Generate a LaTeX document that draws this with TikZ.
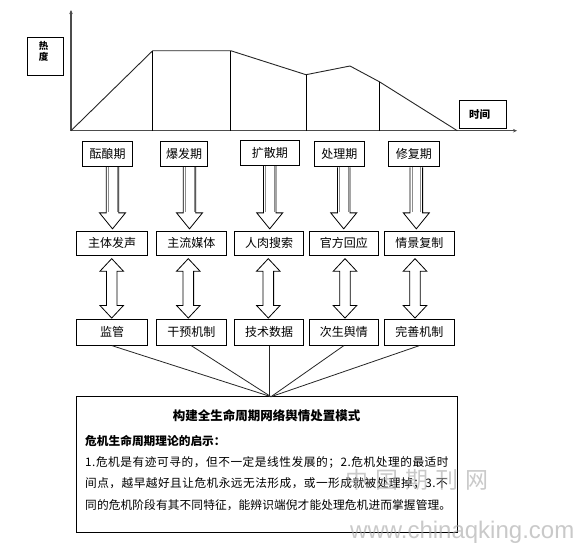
\documentclass[tikz,border=0pt]{standalone}
\usepackage{fontspec}
\setmainfont{Noto Sans CJK SC}
\newfontfamily\wmfont{Liberation Sans}
\usetikzlibrary{calc,arrows.meta}
\def\sprd#1{\ifx#1\relax\else#1\hskip 0pt plus 1fil\expandafter\sprd\fi}
\tikzset{
  axis/.style={draw=black!70, line width=1.2pt},
  curve/.style={draw=black!85, line width=0.9pt},
  vline/.style={draw=black, line width=0.8pt},
  box/.style={draw=black, line width=0.8pt, inner sep=0pt, font=\fontsize{12pt}{14pt}\selectfont},
  harrow/.style={draw=black, line width=0.8pt, fill=white, line join=miter},
  hinner/.style={draw=black!45, line width=0.7pt},
  conn/.style={draw=black!85, line width=0.8pt},
  wm/.style={text=black!35, opacity=0.6}
}
\newcommand{\hdown}[3]{%
  \draw[harrow] let \p1=(#2.south), \p2=(#3.north) in
    (#1pt-6.3pt,\y1) -- (#1pt-6.3pt,\y2+17.7pt) -- (#1pt-13pt,\y2+17.7pt) -- (#1pt,\y2+1.7pt)
    -- (#1pt+13pt,\y2+17.7pt) -- (#1pt+6.3pt,\y2+17.7pt) -- (#1pt+6.3pt,\y1);
  \draw[hinner] let \p1=(#2.south), \p2=(#3.north) in
    (#1pt-4.4pt,\y1) -- (#1pt-4.4pt,\y2+18.3pt)
    (#1pt+4.4pt,\y1) -- (#1pt+4.4pt,\y2+18.3pt);
}
\newcommand{\hdouble}[3]{%
  \draw[harrow] let \p1=(#2.south), \p2=(#3.north) in
    (#1pt,\y1-2.6pt) -- (#1pt+11.7pt,\y1-15.1pt) -- (#1pt+5.3pt,\y1-15.1pt) -- (#1pt+5.3pt,\y2+13pt)
    -- (#1pt+11.7pt,\y2+13pt) -- (#1pt,\y2+0.5pt) -- (#1pt-11.7pt,\y2+13pt) -- (#1pt-5.3pt,\y2+13pt)
    -- (#1pt-5.3pt,\y1-15.1pt) -- (#1pt-11.7pt,\y1-15.1pt) -- cycle;
}
\begin{document}
\begin{tikzpicture}[x=1pt,y=-1pt]
\useasboundingbox[fill=white] (0,0) rectangle (580,544);

% --- chart ---
\coordinate (O) at (71,130.7);
\coordinate (ytop) at (71,10);
\coordinate (xend) at (517,130.7);
\draw[axis,-{Stealth[length=4pt,width=3.5pt]}] (O) -- (ytop);
\draw[axis,-{Stealth[length=4pt,width=3.5pt]}] (O) -- (xend);
\coordinate (c1) at (152.7,50.7);
\coordinate (c2) at (230.7,50.7);
\coordinate (c3) at (306,74.7);
\coordinate (c4) at (350,66);
\coordinate (c5) at (379.3,81.7);
\coordinate (c6) at (457.3,130.7);
\draw[curve] (O) -- (c1) -- (c2) -- (c3) -- (c4) -- (c5) -- (c6);
\draw[vline] (c1) -- (c1 |- O);
\draw[vline] (c2) -- (c2 |- O);
\draw[vline] (c3) -- (c3 |- O);
\draw[vline] (c5) -- (c5 |- O);

\node[box, minimum width=35.5pt, minimum height=37.3pt] (rd) at (45.3,56.3) {};
\node[inner sep=0pt, align=center, font=\fontsize{9.5pt}{11pt}\selectfont\bfseries] (rdt) at (43.5,51.5) {热\\度};
\node[box, minimum width=47.7pt, minimum height=28.3pt] (tm) at (482.8,114.2) {};
\node[inner sep=0pt, font=\fontsize{10.5pt}{12pt}\selectfont\bfseries] (tmt) at (479.5,114.3) {时间};

% --- phase boxes ---
\node[box, minimum width=50.4pt, minimum height=25.7pt] (p1) at (107.5,153.8) {酝酿期};
\node[box, minimum width=46.6pt, minimum height=25.7pt] (p2) at (184,153.8) {爆发期};
\node[box, minimum width=59pt, minimum height=25.7pt] (p3) at (269.8,152.9) {扩散期};
\node[box, minimum width=50pt, minimum height=25.7pt] (p4) at (339.3,154) {处理期};
\node[box, minimum width=51pt, minimum height=25.7pt] (p5) at (413.8,154) {修复期};

% --- middle row ---
\node[box, minimum width=70.6pt, minimum height=24.7pt] (b1) at (112,243.3) {主体发声};
\node[box, minimum width=69.3pt, minimum height=24.7pt] (b2) at (191.3,243.3) {主流媒体};
\node[box, minimum width=68.6pt, minimum height=24.7pt] (b3) at (269,243.3) {人肉搜索};
\node[box, minimum width=69pt, minimum height=24.7pt] (b4) at (343.8,243.3) {官方回应};
\node[box, minimum width=70pt, minimum height=24.7pt] (b5) at (419.3,243.3) {情景复制};

% --- bottom row ---
\node[box, minimum width=70.6pt, minimum height=26.3pt] (m1) at (112,332.1) {监管};
\node[box, minimum width=69.3pt, minimum height=26.3pt] (m2) at (191.3,332.1) {干预机制};
\node[box, minimum width=68.6pt, minimum height=26.3pt] (m3) at (269,332.1) {技术数据};
\node[box, minimum width=69pt, minimum height=26.3pt] (m4) at (343.8,332.1) {次生舆情};
\node[box, minimum width=70pt, minimum height=26.3pt] (m5) at (419.3,332.1) {完善机制};

% --- hollow arrows ---
\hdown{112.5}{p1}{b1}
\hdown{189.5}{p2}{b2}
\hdown{269.7}{p3}{b3}
\hdown{343.7}{p4}{b4}
\hdown{416.3}{p5}{b5}

\hdouble{111.7}{b1}{m1}
\hdouble{188.3}{b2}{m2}
\hdouble{268.3}{b3}{m3}
\hdouble{345}{b4}{m4}
\hdouble{415}{b5}{m5}

% --- summary box ---
\node[box, minimum width=381pt, minimum height=136pt] (big) at (267.2,464.7) {};
\coordinate (conv) at (271,396.7);
\draw[conn] (m1.south) -- (conv);
\draw[conn] (m2.south) -- (conv);
\draw[conn] (m3.south) -- (m3.south |- conv);
\draw[conn] (m4.south) -- (conv);
\draw[conn] (m5.south) -- (conv);

\node[inner sep=0pt, font=\fontsize{12.5pt}{14pt}\selectfont\bfseries] (ttl) at (266.7,415.5) {构建全生命周期网络舆情处置模式};
\node[inner sep=0pt, anchor=west, font=\fontsize{11.7pt}{14pt}\selectfont\bfseries] (hd) at (85,440.5) {危机生命周期理论的启示：};
\node[inner sep=0pt, anchor=west, font=\fontsize{11.7pt}{14pt}\selectfont] (l1) at (85,462.5) {\hbox to 364pt{\sprd 1.危机是有迹可寻的，但不一定是线性发展的；2.危机处理的最适时\relax}};
\node[inner sep=0pt, anchor=west, font=\fontsize{11.7pt}{14pt}\selectfont] (l2) at (85,484) {\hbox to 363pt{\sprd 间点，越早越好且让危机永远无法形成，或一形成就被处理掉；3.不\relax}};
\node[inner sep=0pt, anchor=west, font=\fontsize{11.7pt}{14pt}\selectfont] (l3) at (85,505.5) {\hbox to 366pt{\sprd 同的危机阶段有其不同特征，能辨识端倪才能处理危机进而掌握管理。\relax}};

% --- watermark ---
\node[wm, inner sep=0pt, anchor=west, font=\fontsize{23pt}{26pt}\selectfont] (wm1) at (345,480) {\hbox to 150pt{\sprd 中国期刊网\relax}};
\node[wm, inner sep=0pt, anchor=base west, font=\wmfont\fontsize{24pt}{26pt}\selectfont] (wm2) at (350,538) {www.chinaqking.com};
\end{tikzpicture}
\end{document}
